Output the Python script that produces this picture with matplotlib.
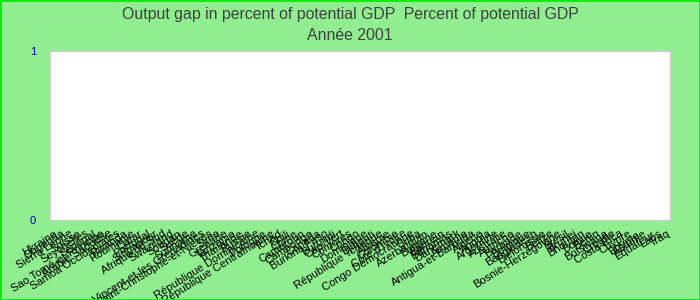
import matplotlib.pyplot as plt
import numpy as np

# country labels, in the order they appear on the x axis
countries = [
    "Ukraine", "Ouganda", "Sierra Leone", "Suisse", "Seychelles", "Sénégal",
    "Sao Tomé-et-Principe", "Arabie Saoudite", "Samoa Occidentales", "Rwanda",
    "Roumanie", "Qatar", "Portugal", "Singapour", "Afrique du Sud", "Swaziland",
    "Soudan", "Suède", "Suriname", "Saint-Vincent-et-les Grenadines",
    "Saint-Christophe-et-Niévès", "Syrie", "Grenade", "Tanzanie", "Thaïlande",
    "Russie", "République Dominicaine", "Pologne", "République Centrafricaine",
    "Tchad", "Chili", "Chine", "Cameroun", "Cambodge", "Canada",
    "Burkina Faso", "Burundi", "Cap-Vert", "Comores", "Congo", "Dominique",
    "Djibouti", "République Tchèque", "Albanie", "Colombie", "Côte d'Ivoire",
    "Congo Démocratique", "Cuba", "Azerbaïdjan", "Bulgarie", "Bahreïn",
    "Bahamas", "Danemark", "Arménie", "Antigua-et-Barbuda", "Algérie",
    "Angola", "Argentine", "Australie", "Autriche", "Barbade", "Belgique",
    "Bangladesh", "Biélorussie", "Belize", "Bosnie-Herzégovine", "Brésil",
    "Brunei", "Bhoutan", "Bolivie", "Bénin", "Botswana", "Croatie",
    "Costa Rica", "Chypre", "Égypte", "Estonie", "Équateur", "Laos", "Iraq",
]
# output gap values for 2001 (no data shown on the chart -> zero height)
values = [
    0, 0, 0, 0, 0, 0, 0, 0, 0, 0, 0, 0, 0, 0, 0, 0, 0, 0, 0, 0,
    0, 0, 0, 0, 0, 0, 0, 0, 0, 0, 0, 0, 0, 0, 0, 0, 0, 0, 0, 0,
    0, 0, 0, 0, 0, 0, 0, 0, 0, 0, 0, 0, 0, 0, 0, 0, 0, 0, 0, 0,
    0, 0, 0, 0, 0, 0, 0, 0, 0, 0, 0, 0, 0, 0, 0, 0, 0, 0, 0, 0,
]
yticks = [0, 1]

plt.rcParams['font.family'] = ['Liberation Sans', 'DejaVu Sans']

fig = plt.figure(figsize=(7, 3), dpi=100, facecolor='#90ee90')
ax = fig.add_axes([50/700, 80/300, 620/700, 169/300])
ax.set_facecolor('white')

x = np.arange(len(countries))
ax.bar(x, values, color='#4f81bd', width=0.8)

ax.set_xlim(-0.5, len(countries) - 0.5)
ax.set_ylim(0, 1)
ax.set_yticks(yticks)
ax.set_yticklabels([str(v) for v in yticks], color='#0000cc', fontsize=8)
ax.set_xticks(x)
ax.set_xticklabels(countries, rotation=32, ha='right', rotation_mode='anchor',
                   fontsize=8, color='black')
ax.tick_params(axis='y', length=0, pad=10)
ax.tick_params(axis='x', length=0, pad=6)
for s in ax.spines.values():
    s.set_color('#d0d0d0')
    s.set_linewidth(1)

fig.text(0.5, 1 - 14/300, "Output gap in percent of potential GDP  Percent of potential GDP",
         ha='center', va='center', fontsize=11.4, color='#404040')
fig.text(0.5, 1 - 36/300, "Année 2001", ha='center', va='center',
         fontsize=11.4, color='#404040')

# bright green frame around the whole picture
fig.patches.append(plt.Rectangle((0, 0), 1, 1, transform=fig.transFigure,
                                 fill=False, edgecolor='#00ee00', linewidth=2))

fig.savefig('out.png', dpi=100, facecolor=fig.get_facecolor())
